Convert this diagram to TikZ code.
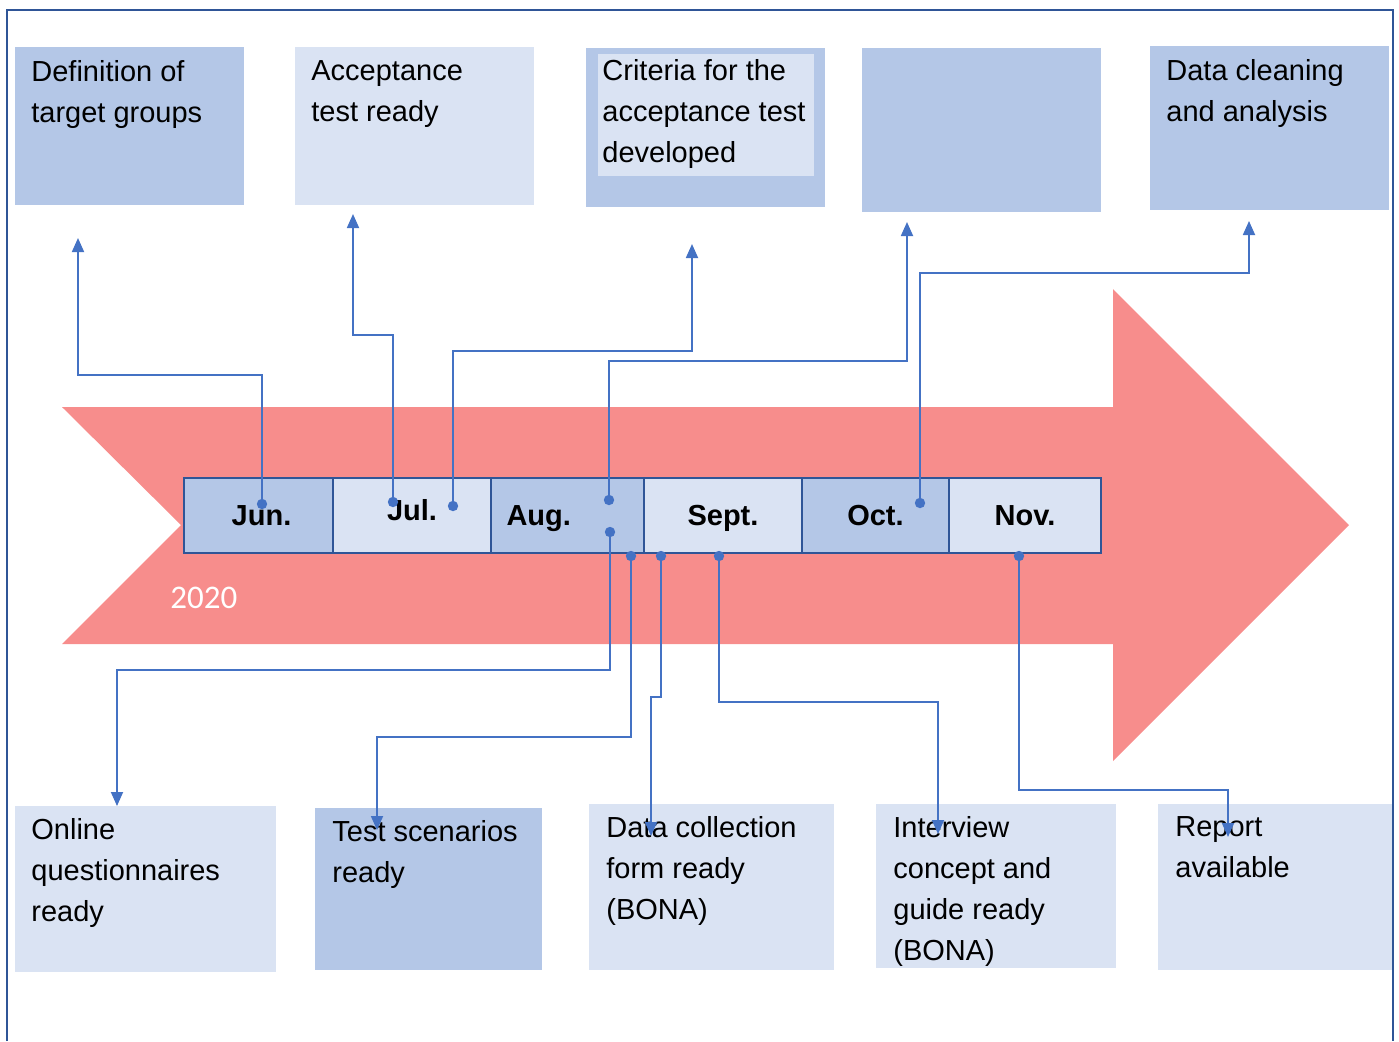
\documentclass[tikz,border=0pt]{standalone}
\usepackage{fontspec}
\setmainfont{Liberation Sans}
\newfontfamily\yearfont{Carlito}
\usetikzlibrary{arrows.meta,positioning}
\definecolor{darkbox}{RGB}{180,199,231}
\definecolor{lightbox}{RGB}{218,227,243}
\definecolor{rim}{RGB}{47,85,151}
\definecolor{linkblue}{RGB}{68,114,196}
\definecolor{salmon}{RGB}{247,141,140}

\begin{document}
\begin{tikzpicture}[x=0.5pt,y=-0.5pt,
        goal/.style={rectangle,inner sep=0pt,outer sep=0pt,anchor=north west},
        txt/.style={inner sep=0pt,anchor=north west,align=left,font=\fontsize{14.5}{20.5}\selectfont},
        month/.style={rectangle,draw=rim,line width=1.25pt,inner sep=0pt,outer sep=0pt,
          minimum height=37.5pt,text height=10.4pt,text depth=0pt,font=\fontsize{14.5}{17}\selectfont\bfseries},
        link/.style={draw=linkblue,line width=0.9pt,-{Triangle[width=6pt,length=7pt]}}]
      \useasboundingbox (0,0) rectangle (1399,1041);
      % big arrow
      \fill[salmon] (62,407) -- (1113,407) -- (1113,289) -- (1349,525) -- (1113,761)
        -- (1113,644) -- (62,644) -- (181,525) -- cycle;
      \node[font=\yearfont\fontsize{16.5}{20}\selectfont,text=white,anchor=west,inner sep=0pt] (yr) at (170,598) {2020};
      % months
      \node[month,fill=darkbox,minimum width=74.5pt,anchor=north west] (jun) at (184,478) {\hspace*{3pt}Jun.};
      \node[month,fill=lightbox,minimum width=79pt,right=0pt of jun] (jul) {\raisebox{2.5pt}{Jul.}};
      \node[month,fill=darkbox,text width=61pt,inner xsep=7.75pt,align=left,right=0pt of jul] (aug) {Aug.};
      \node[month,fill=lightbox,minimum width=79pt,right=0pt of aug] (sep) {Sept.};
      \node[month,fill=darkbox,minimum width=73.5pt,right=0pt of sep] (oct) {Oct.};
      \node[month,fill=lightbox,minimum width=76pt,right=0pt of oct] (nov) {Nov.};
      % milestones above
      \node[goal,fill=darkbox,minimum width=114.5pt,minimum height=79pt] (g1) at (15,47) {};
      \node[goal,fill=lightbox,minimum width=119.5pt,minimum height=79pt] (g2) at (295,47) {};
      \node[goal,fill=darkbox,minimum width=119.5pt,minimum height=79.5pt] (g3) at (586,48) {};
      \node[goal,fill=lightbox,minimum width=108pt,minimum height=61pt] (g3i) at (598,54) {};
      \node[goal,fill=darkbox,minimum width=119.5pt,minimum height=82pt] (g4) at (862,48) {};
      \node[goal,fill=darkbox,minimum width=119.5pt,minimum height=82pt] (g5) at (1150,46) {};
      \node[txt] (t1) at ([shift={(16,13)}]g1.north west) {Definition of\\target groups};
      \node[txt] (t2) at ([shift={(16,13)}]g2.north west) {Acceptance\\test ready};
      \node[txt] (t3) at ([shift={(4,5)}]g3i.north west) {Criteria for the\\acceptance test\\developed};
      \node[txt] (t5) at ([shift={(16,13)}]g5.north west) {Data cleaning\\and analysis};
      % milestones below
      \node[goal,fill=lightbox,minimum width=130.5pt,minimum height=83pt] (h1) at (15,806) {};
      \node[goal,fill=darkbox,minimum width=113.5pt,minimum height=81pt] (h2) at (315,808) {};
      \node[goal,fill=lightbox,minimum width=122.5pt,minimum height=83pt] (h3) at (589,804) {};
      \node[goal,fill=lightbox,minimum width=120pt,minimum height=82pt] (h4) at (876,804) {};
      \node[goal,fill=lightbox,minimum width=117pt,minimum height=83pt] (h5) at (1158,804) {};
      \node[txt] (u1) at ([shift={(16,12)}]h1.north west) {Online\\questionnaires\\ready};
      \node[txt] (u2) at ([shift={(17,12)}]h2.north west) {Test scenarios\\ready};
      \node[txt] (u3) at ([shift={(17,12)}]h3.north west) {Data collection\\form ready\\(BONA)};
      \node[txt] (u4) at ([shift={(17,12)}]h4.north west) {Interview\\concept and\\guide ready\\(BONA)};
      \node[txt] (u5) at ([shift={(17,12)}]h5.north west) {Report\\available};
      % connectors
      \coordinate (d1) at (262,504);  \coordinate (p1) at (78,238);
      \coordinate (d2) at (393,502);  \coordinate (p2) at (353,214);
      \coordinate (d3) at (453,506);  \coordinate (p3) at (692,244);
      \coordinate (d4) at (609,500);  \coordinate (p4) at (907,222);
      \coordinate (d5) at (920,503);  \coordinate (p5) at (1249,221);
      \coordinate (d6) at (610,532);  \coordinate (p6) at (117,806);
      \coordinate (d7) at (631,556);  \coordinate (p7) at (377,830);
      \coordinate (d8) at (661,556);  \coordinate (p8) at (651,836);
      \coordinate (d9) at (719,556);  \coordinate (p9) at (938,834);
      \coordinate (d10) at (1019,556); \coordinate (p10) at (1228,837);
      \draw[link] (d1) -- ++(0,-129) -| (p1);
      \draw[link] (d2) -- ++(0,-167) -| (p2);
      \draw[link] (d3) -- ++(0,-155) -| (p3);
      \draw[link] (d4) -- ++(0,-139) -| (p4);
      \draw[link] (d5) -- ++(0,-230) -| (p5);
      \draw[link] (d6) -- ++(0,138) -| (p6);
      \draw[link] (d7) -- ++(0,181) -| (p7);
      \draw[link] (d8) -- ++(0,141) -| (p8);
      \draw[link] (d9) -- ++(0,146) -| (p9);
      \draw[link] (d10) -- ++(0,234) -| (p10);
      \foreach \d in {d1,d2,d3,d4,d5,d6,d7,d8,d9,d10}
        \fill[linkblue] (\d) circle (2.6pt);
      % frame
      \draw[rim,line width=1pt] (7,1041) -- (7,10) -- (1393,10) -- (1393,1041);
    \end{tikzpicture}
\end{document}
